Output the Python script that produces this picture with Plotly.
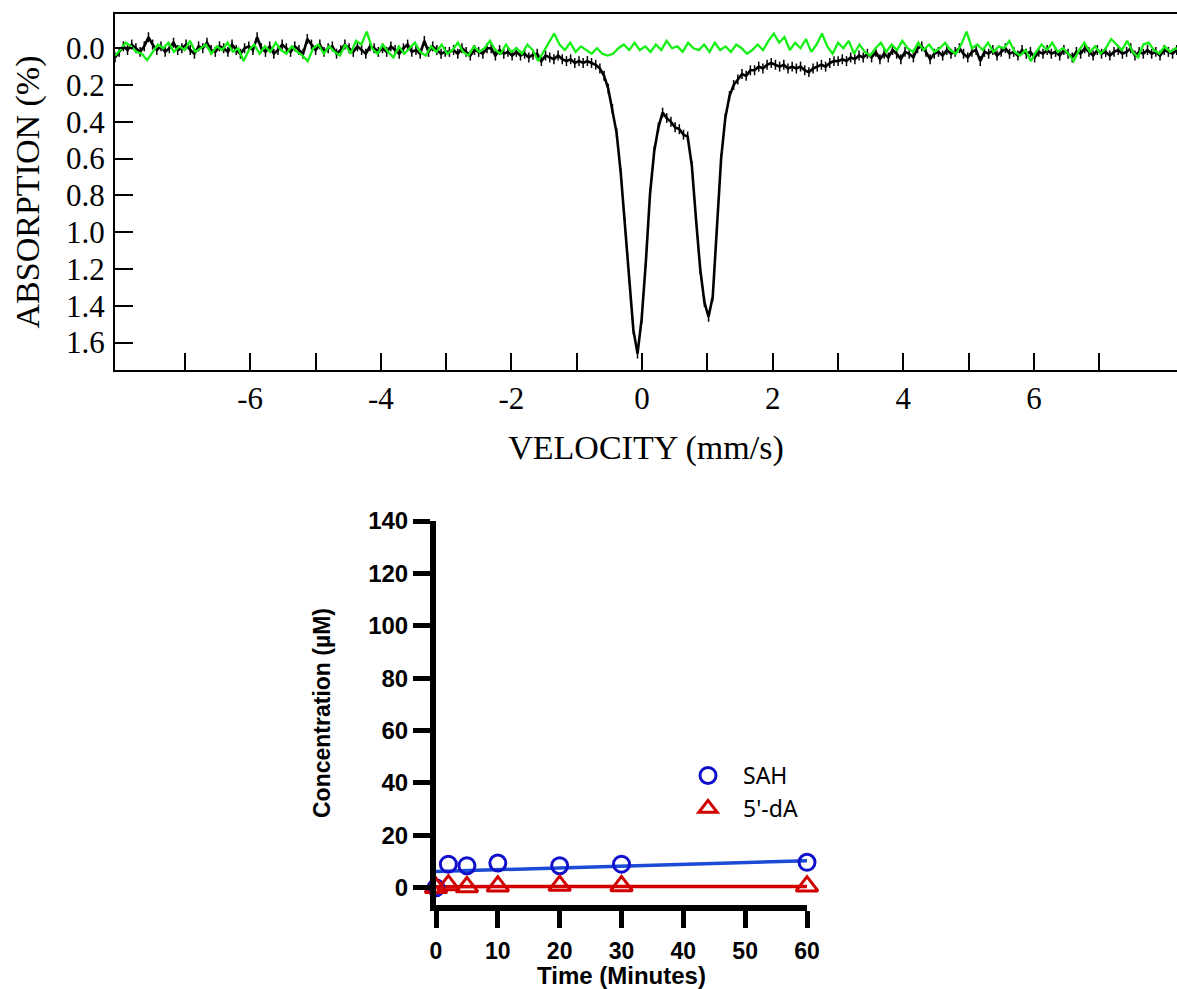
import numpy as np
import plotly.graph_objects as go

# ---------------- Mössbauer spectrum (top panel) ----------------
# Channel grid of the folded spectrum (mm/s)
black_v0, black_dv, black_n = -8.07, 0.064, 256
green_v0, green_dv, green_n = -8.07, 0.082, 200

# Absorption (%) of the sample spectrum, 256 channels
absorption_black = [
    0.05, 0.02, -0.01, 0.01, -0.02, 0.00, 0.02, -0.01, -0.06, -0.02, 0.01, -0.01, 0.02, 0.00, -0.03, 0.01,
    0.00, -0.02, 0.01, 0.03, -0.01, 0.00, -0.03, 0.01, 0.02, -0.01, 0.00, 0.02, -0.02, 0.01, 0.03, 0.00,
    -0.01, 0.01, -0.06, 0.00, 0.02, -0.01, 0.03, 0.01, -0.02, 0.00, 0.02, -0.01, 0.01, 0.03, -0.05, -0.02,
    0.01, -0.02, 0.02, 0.00, -0.01, 0.03, 0.01, -0.02, 0.00, 0.02, -0.01, 0.01, 0.03, -0.01, 0.00, 0.02,
    0.00, 0.02, -0.01, 0.01, 0.03, 0.00, -0.02, 0.02, 0.01, 0.03, -0.04, 0.02, -0.01, 0.01, 0.03, 0.02,
    0.02, 0.01, 0.03, 0.00, 0.02, 0.04, 0.01, 0.02, 0.03, 0.00, 0.00, 0.04, 0.01, 0.03, 0.02, 0.04,
    0.02, 0.04, 0.03, 0.05, 0.035, 0.03, 0.07, 0.04, 0.05, 0.06, 0.04, 0.06, 0.07, 0.06, 0.08, 0.07,
    0.08, 0.07, 0.08, 0.09, 0.11, 0.15, 0.22, 0.33, 0.46, 0.68, 0.95, 1.25, 1.53, 1.66, 1.47, 1.16,
    0.79, 0.56, 0.43, 0.35, 0.38, 0.40, 0.43, 0.44, 0.47, 0.48, 0.64, 0.93, 1.20, 1.38, 1.46, 1.35,
    0.98, 0.60, 0.38, 0.26, 0.20, 0.17, 0.14, 0.15, 0.12, 0.12, 0.10, 0.11, 0.09, 0.08, 0.09, 0.10,
    0.09, 0.11, 0.10, 0.11, 0.10, 0.12, 0.13, 0.11, 0.10, 0.09, 0.10, 0.08, 0.07, 0.07, 0.06, 0.07,
    0.05, 0.06, 0.04, 0.05, 0.03, 0.05, 0.02, 0.06, 0.03, 0.05, 0.01, 0.03, 0.06, 0.02, 0.03, 0.05,
    0.00, -0.01, 0.02, 0.06, 0.03, 0.02, 0.04, 0.01, 0.03, 0.02, 0.00, 0.03, 0.05, 0.02, 0.01, 0.07,
    0.02, 0.03, 0.01, 0.04, 0.02, 0.00, 0.03, 0.02, 0.04, 0.01, 0.03, 0.02, 0.05, 0.02, 0.03, 0.01,
    0.03, 0.02, 0.04, 0.01, 0.03, 0.05, 0.02, 0.03, 0.00, 0.02, 0.04, 0.01, 0.03, 0.02, 0.04, 0.02,
    0.01, 0.03, 0.02, 0.00, 0.04, 0.02, 0.03, 0.01, 0.03, 0.02, 0.04, 0.01, 0.02, 0.03, 0.01, 0.02,
]
absorption_err = 0.027

# Absorption (%) of the reference spectrum, 200 channels
absorption_green = [
    0.04, 0.01, -0.03, -0.01, 0.02, 0.03, 0.065, 0.02, -0.02, 0.00, -0.03, 0.02, -0.01, 0.01, -0.04, 0.02, 0.00, -0.02, 0.03, -0.01,
    0.01, -0.03, 0.02, 0.00, 0.07, 0.01, -0.02, 0.03, -0.01, 0.02, -0.03, 0.01, 0.03, -0.01, 0.02, 0.04, 0.07, 0.00, -0.02, 0.03,
    -0.01, 0.02, 0.04, -0.02, 0.03, -0.04, -0.02, -0.09, 0.00, 0.03, -0.02, 0.02, 0.05, -0.01, 0.03, 0.00, -0.03, 0.02, 0.04, -0.01,
    0.02, -0.02, 0.03, 0.01, -0.03, 0.02, 0.04, -0.01, 0.02, 0.00, -0.04, 0.01, 0.03, -0.02, 0.02, 0.00, 0.03, -0.02, 0.01, 0.07,
    0.02, -0.03, -0.08, -0.02, 0.01, -0.03, 0.02, -0.01, 0.01, 0.03, 0.00, 0.03, 0.04, 0.03, 0.00, -0.02, 0.01, -0.03, 0.01, -0.01,
    0.02, -0.02, 0.01, -0.04, 0.00, -0.01, 0.02, -0.03, 0.00, 0.01, -0.02, 0.02, -0.03, 0.01, -0.01, 0.02, -0.02, 0.00, 0.03, 0.01,
    -0.02, 0.01, -0.04, -0.08, -0.03, -0.06, 0.01, -0.03, 0.00, -0.05, 0.02, -0.02, -0.08, -0.01, 0.03, -0.03, 0.00, -0.04, 0.03, -0.02,
    0.02, 0.04, 0.00, -0.03, 0.02, -0.02, 0.01, -0.04, 0.00, 0.02, -0.03, 0.01, -0.02, 0.02, 0.00, -0.03, 0.01, 0.03, -0.02, -0.09,
    0.00, -0.02, 0.01, -0.03, 0.02, -0.01, 0.00, -0.04, 0.02, 0.04, 0.01, 0.07, 0.02, -0.02, 0.01, -0.03, 0.02, 0.00, 0.03, 0.07,
    0.01, -0.03, 0.02, -0.01, 0.03, 0.00, -0.05, -0.02, 0.01, -0.04, 0.02, 0.05, -0.02, -0.03, 0.01, 0.03, -0.01, 0.02, 0.00, 0.01,
]

velocity_black = np.round(black_v0 + black_dv * np.arange(black_n), 3)
velocity_green = np.round(green_v0 + green_dv * np.arange(green_n), 3)

vel_ticks = list(range(-7, 8))
vel_ticktext = [str(t) if t % 2 == 0 else "" for t in vel_ticks]
abs_ticks = [0.0, 0.2, 0.4, 0.6, 0.8, 1.0, 1.2, 1.4, 1.6]

# ---------------- Product time course (bottom panel) ----------------
time_min = [0, 2, 5, 10, 20, 30, 60]
sah_conc = [0.0, 9.0, 8.4, 9.4, 8.4, 9.0, 9.7]
da_conc = [0.0, 1.0, 0.3, 0.6, 0.8, 0.7, 0.6]
fit_time = [0, 60]
sah_fit = [6.2, 10.3]
da_fit = [0.4, 0.5]
time_ticks = [0, 10, 20, 30, 40, 50, 60]
conc_ticks = [0, 20, 40, 60, 80, 100, 120, 140]

W, H = 1177, 989
serif = "Liberation Serif"
sans = "Liberation Sans"

fig = go.Figure()

fig.add_trace(go.Scatter(
    x=velocity_black, y=absorption_black, mode="lines",
    line=dict(color="black", width=2.6),
    error_y=dict(type="constant", value=absorption_err, thickness=1.5, width=0, color="black"),
    xaxis="x", yaxis="y", showlegend=False, hoverinfo="skip",
))
fig.add_trace(go.Scatter(
    x=velocity_green, y=absorption_green, mode="lines",
    line=dict(color="#14f014", width=2.3),
    xaxis="x", yaxis="y", showlegend=False, hoverinfo="skip",
))

# Fitted lines
fig.add_trace(go.Scatter(
    x=fit_time, y=sah_fit, mode="lines", line=dict(color="#1a4ad6", width=3.5),
    xaxis="x2", yaxis="y2", showlegend=False, hoverinfo="skip", cliponaxis=False,
))
fig.add_trace(go.Scatter(
    x=fit_time, y=da_fit, mode="lines", line=dict(color="#d40000", width=3.5),
    xaxis="x2", yaxis="y2", showlegend=False, hoverinfo="skip", cliponaxis=False,
))
# Measured points
fig.add_trace(go.Scatter(
    x=time_min, y=sah_conc, mode="markers", name="SAH",
    marker=dict(symbol="circle-open", size=16, color="#1010cc", line=dict(width=3, color="#1010cc")),
    xaxis="x2", yaxis="y2", cliponaxis=False,
))
fig.add_trace(go.Scatter(
    x=time_min, y=da_conc, mode="markers", name="5'-dA",
    marker=dict(symbol="triangle-up-open", size=19, color="#d00000", line=dict(width=3, color="#d00000")),
    xaxis="x2", yaxis="y2", cliponaxis=False,
))

fig.update_layout(
    template="none",
    width=W, height=H,
    margin=dict(l=0, r=0, t=0, b=0, autoexpand=False),
    paper_bgcolor="white", plot_bgcolor="white",
    xaxis=dict(
        domain=[115 / W, 1.0], anchor="y", automargin=False,
        range=[-8.07, 8.19],
        tickvals=vel_ticks, ticktext=vel_ticktext,
        ticks="inside", ticklen=17, tickwidth=2, tickcolor="black",
        showline=True, linewidth=2, linecolor="black", mirror=True,
        showgrid=False, zeroline=False,
        tickfont=dict(family=serif, size=31, color="black"),
        ticklabelstandoff=0,
        title=dict(text="VELOCITY (mm/s)", font=dict(family=serif, size=34, color="black"), standoff=20),
    ),
    yaxis=dict(
        domain=[1 - 370 / H, 1 - 14 / H], anchor="x", automargin=False,
        range=[1.749, -0.186],
        tickvals=abs_ticks, tickformat=".1f",
        ticks="inside", ticklen=18, tickwidth=2, tickcolor="black",
        showline=True, linewidth=2, linecolor="black", mirror=False,
        showgrid=False, zeroline=False,
        tickfont=dict(family=serif, size=31, color="black"),
        ticklabelstandoff=2,
        title=dict(text="ABSORPTION (%)", font=dict(family=serif, size=34, color="black"), standoff=16),
    ),
    xaxis2=dict(
        domain=[436 / W, 807 / W], anchor="y2", automargin=False,
        range=[0, 60],
        tickvals=time_ticks,
        ticks="outside", ticklen=17, tickwidth=5, tickcolor="black",
        showline=True, linewidth=6, linecolor="black",
        showgrid=False, zeroline=False,
        tickfont=dict(family=sans, size=23, color="black", weight="bold"),
        ticklabelstandoff=3,
        title=dict(text="Time (Minutes)", font=dict(family=sans, size=24, color="black", weight="bold"), standoff=10),
    ),
    yaxis2=dict(
        domain=[1 - 905 / H, 1 - 521 / H], anchor="x2", automargin=False,
        range=[-6.6, 140],
        tickvals=conc_ticks,
        ticks="outside", ticklen=17, tickwidth=5, tickcolor="black",
        showline=True, linewidth=6, linecolor="black",
        showgrid=False, zeroline=False,
        tickfont=dict(family=sans, size=24, color="black", weight="bold"),
        title=dict(text="Concentration (µM)", font=dict(family=sans, size=23, color="black", weight="bold"), standoff=33),
    ),
    legend=dict(
        x=673 / W, y=1 - 754 / H, xanchor="left", yanchor="top",
        bgcolor="rgba(0,0,0,0)", borderwidth=0,
        font=dict(family="Noto Sans", size=23, color="black"),
        itemwidth=60, tracegroupgap=0,
    ),
)

fig.write_html("out.html")
